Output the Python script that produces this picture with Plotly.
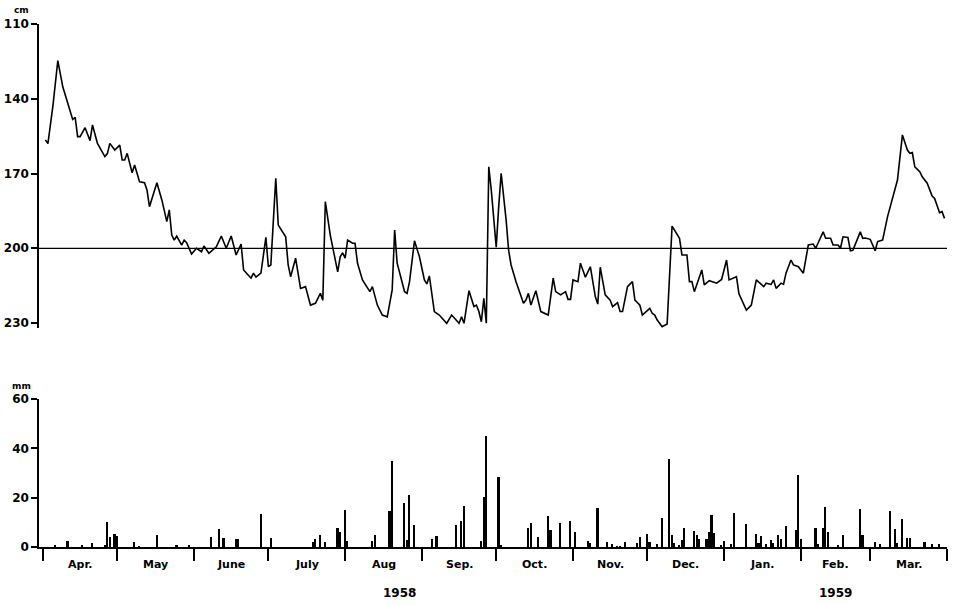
import plotly.graph_objects as go

# Water level (cm below surface), day index from 1 Apr 1958
level_day = [1, 2, 4, 6, 8, 10, 12, 13, 14, 15, 17, 19, 20, 22, 25, 26, 27, 29, 31, 32, 33, 34, 36, 37, 39, 41, 42, 43, 46, 48,
             50, 51, 52, 53, 54, 56, 57, 58, 60, 62, 64, 65, 67, 70, 72, 74, 76, 78, 80, 81, 84, 85, 86, 88, 90, 91, 92, 94, 95, 98,
             99, 100, 102, 104, 106, 108, 110, 112, 113, 114, 116, 119, 120, 121, 122, 123, 125, 126, 127, 129, 132, 133, 135, 137, 139, 141, 142, 143, 146, 147,
             148, 150, 152, 154, 155, 156, 158, 160, 163, 165, 168, 169, 170, 172, 174, 175, 176, 177, 178, 179, 180, 181, 183, 184, 185, 187, 188, 189, 191, 194,
             195, 196, 197, 199, 201, 204, 206, 207, 209, 211, 212, 213, 214, 216, 217, 219, 221, 223, 224, 225, 227, 229, 230, 232, 233, 234, 236, 238, 239, 241,
             242, 245, 246, 247, 248, 250, 252, 254, 256, 257, 258, 260, 261, 262, 263, 265, 266, 267, 269, 272, 274, 276, 277, 280, 281, 284, 286, 288, 291, 292,
             294, 295, 296, 298, 299, 300, 302, 303, 305, 307, 309, 311, 312, 315, 316, 318, 319, 321, 322, 323, 325, 326, 327, 330, 331, 332, 334, 336, 337, 339,
             341, 345, 347, 349, 350, 351, 352, 354, 355, 357, 359, 360, 362, 363, 364]
level_cm = [156.5, 158.0, 143.0, 124.7, 135.2, 141.8, 148.3, 147.5, 155.2, 155.2, 151.6, 156.8, 150.5, 157.9, 163.2, 162.0, 157.9, 160.6, 158.6, 164.6,
            164.6, 161.9, 169.7, 166.6, 173.3, 173.7, 176.6, 183.3, 173.7, 180.6, 189.3, 184.6, 194.7, 196.7, 195.1, 198.7, 196.7, 197.8, 202.3, 200.0,
            201.4, 199.1, 202.0, 199.4, 195.1, 200.0, 195.1, 202.7, 198.3, 208.7, 212.0, 210.0, 211.6, 210.0, 195.6, 207.4, 206.7, 171.9, 190.7, 195.4,
            206.7, 211.4, 204.0, 216.1, 215.4, 222.8, 222.1, 218.1, 220.8, 181.3, 194.7, 209.5, 203.4, 201.8, 204.0, 196.7, 198.0, 198.0, 206.0, 212.7,
            217.4, 215.4, 222.8, 226.8, 227.5, 216.7, 192.7, 206.0, 217.4, 218.1, 213.4, 197.0, 203.4, 212.7, 214.3, 211.1, 225.4, 226.8, 230.1, 226.8,
            230.1, 227.5, 230.1, 217.0, 223.4, 222.8, 225.4, 229.5, 220.1, 230.1, 167.3, 176.6, 199.6, 183.3, 169.9, 188.7, 200.7, 206.7, 213.4, 222.1,
            220.8, 218.1, 222.8, 217.0, 225.4, 226.8, 212.0, 217.4, 218.7, 217.4, 220.5, 220.5, 212.7, 213.4, 206.0, 211.6, 207.4, 219.4, 222.4, 207.6,
            218.7, 220.8, 223.4, 221.8, 225.4, 225.4, 215.4, 213.4, 220.8, 222.8, 226.8, 224.1, 226.1, 226.8, 228.8, 231.5, 230.4, 191.1, 194.7, 196.0,
            202.7, 202.7, 213.4, 213.4, 217.4, 211.4, 208.7, 214.7, 213.0, 214.0, 212.5, 204.7, 212.7, 211.4, 218.3, 224.8, 222.8, 212.7, 215.4, 214.0,
            214.5, 212.7, 216.1, 214.0, 214.5, 210.0, 204.7, 206.7, 207.4, 210.0, 198.7, 198.3, 200.0, 193.4, 196.0, 196.0, 198.7, 198.7, 200.0, 195.4,
            195.7, 201.0, 200.8, 193.4, 196.0, 195.9, 196.4, 201.0, 197.3, 196.7, 187.3, 172.6, 154.5, 160.6, 161.9, 161.6, 167.3, 169.3, 171.3, 173.9,
            179.0, 180.0, 185.7, 185.3, 188.0]

# Daily rainfall (mm)
rain_day = [5, 10, 16, 20, 25, 26, 27, 29, 30, 37, 39, 46, 54, 59, 68, 71, 73, 78, 79, 88, 92, 109, 110, 112, 114, 119, 120, 122, 123, 133,
            134, 140, 141, 146, 147, 148, 150, 157, 159, 167, 169, 170, 177, 178, 179, 184, 185, 196, 197, 200, 204, 205, 209, 213, 215, 220, 221, 224, 228, 230,
            232, 233, 235, 240, 241, 244, 245, 248, 250, 253, 254, 255, 257, 258, 259, 263, 264, 265, 268, 269, 270, 271, 274, 275, 278, 279, 284, 288, 289, 290,
            292, 294, 295, 297, 298, 300, 304, 305, 306, 312, 313, 315, 316, 317, 321, 323, 330, 331, 336, 338, 342, 344, 345, 347, 349, 350, 356, 359, 362]
rain_mm = [1.0, 2.3, 0.8, 1.5, 1.0, 10.0, 4.1, 5.1, 4.4, 2.0, 0.5, 4.8, 0.8, 1.0, 4.1, 7.1, 3.7, 3.3, 3.3, 13.2, 3.5, 1.9, 3.2, 4.7, 2.0, 7.7, 6.1, 15.1, 2.6, 2.3,
           5.0, 14.7, 34.7, 17.8, 3.0, 21.2, 9.0, 3.2, 4.6, 8.8, 10.7, 16.7, 2.3, 20.2, 45.0, 28.5, 0.8, 7.6, 9.9, 3.9, 12.7, 6.7, 9.9, 10.5, 6.2, 2.4, 1.6, 15.7, 2.2, 1.1,
           0.5, 0.5, 1.9, 1.6, 4.0, 5.1, 2.2, 1.1, 11.6, 35.5, 4.7, 1.6, 0.8, 2.8, 7.8, 6.5, 4.9, 3.1, 3.1, 6.1, 12.8, 5.5, 0.8, 2.4, 1.1, 13.8, 9.4, 5.1, 1.6, 4.3,
           1.3, 2.7, 1.8, 5.0, 3.4, 8.4, 6.7, 29.0, 3.4, 7.8, 1.3, 7.8, 16.2, 6.1, 0.9, 4.7, 15.4, 4.7, 2.0, 1.1, 14.8, 7.4, 1.6, 11.5, 3.6, 3.6, 2.0, 1.3, 1.3]

month_start_day = [0, 30, 61, 91, 122, 153, 183, 214, 244, 275, 306, 334, 365]
month_labels = ["Apr.", "May", "June", "July", "Aug", "Sep.", "Oct.", "Nov.", "Dec.", "Jan.", "Feb.", "Mar."]
year_labels = ["1958", "1959"]
year_label_day = [144, 320]

level_ticks = [110, 140, 170, 200, 230]
rain_ticks = [0, 20, 40, 60]
reference_level = 200

FONT = "DejaVu Sans"
XR = [-1.6, 365]

fig = go.Figure()
fig.add_trace(go.Scatter(x=level_day, y=level_cm, mode="lines", xaxis="x", yaxis="y",
                         line=dict(color="black", width=1.6), showlegend=False, hoverinfo="skip"))
fig.add_trace(go.Bar(x=rain_day, y=rain_mm, xaxis="x2", yaxis="y2", width=0.65,
                     marker=dict(color="black", line=dict(width=0)), showlegend=False, hoverinfo="skip"))

fig.add_shape(type="line", xref="x", yref="y", x0=XR[0], x1=XR[1] + 1,
              y0=reference_level, y1=reference_level, line=dict(color="black", width=1.3))

annotations = []
mids = [(month_start_day[i] + month_start_day[i + 1]) / 2 for i in range(len(month_labels))]
for m, lab in zip(mids, month_labels):
    annotations.append(dict(x=m, y=-0.017, xref="x2", yref="paper", text=lab, showarrow=False,
                            yanchor="top", xanchor="center",
                            font=dict(family=FONT, size=11, color="black", weight="bold")))
for d, lab in zip(year_label_day, year_labels):
    annotations.append(dict(x=d, y=-0.07, xref="x2", yref="paper", text=lab, showarrow=False,
                            yanchor="top", xanchor="center",
                            font=dict(family=FONT, size=12, color="black", weight="bold")))
annotations.append(dict(x=-0.019, y=1.027, xref="paper", yref="paper", text="cm", showarrow=False,
                        xanchor="center", yanchor="middle",
                        font=dict(family=FONT, size=9, color="black", weight="bold")))
annotations.append(dict(x=-0.019, y=0.308, xref="paper", yref="paper", text="mm", showarrow=False,
                        xanchor="center", yanchor="middle",
                        font=dict(family=FONT, size=9, color="black", weight="bold")))

axis_font = dict(family=FONT, size=12, color="black", weight="bold")

fig.update_layout(
    width=954, height=605,
    margin=dict(l=39, r=7, t=24, b=58, autoexpand=False),
    paper_bgcolor="white", plot_bgcolor="white",
    bargap=0, hovermode=False,
    xaxis=dict(domain=[0, 1], anchor="y", range=XR, visible=False, showgrid=False, zeroline=False,
               automargin=False),
    yaxis=dict(domain=[0.4187, 1], anchor="x", range=[232, 110], tickvals=level_ticks,
               showline=True, linecolor="black", linewidth=1.5, ticks="outside", ticklen=6,
               tickwidth=1.5, tickcolor="black", showgrid=False, zeroline=False, tickfont=axis_font,
               automargin=False),
    xaxis2=dict(domain=[0, 1], anchor="y2", range=XR, matches="x", tickvals=month_start_day,
                ticktext=[""] * len(month_start_day), showline=True, linecolor="black", linewidth=1.5,
                ticks="outside", ticklen=12, tickwidth=1.5, tickcolor="black",
                showgrid=False, zeroline=False, automargin=False),
    yaxis2=dict(domain=[0, 0.283], anchor="x2", range=[0, 60], tickvals=rain_ticks,
                showline=True, linecolor="black", linewidth=1.5, ticks="outside", ticklen=6,
                tickwidth=1.5, tickcolor="black", showgrid=False, zeroline=False, tickfont=axis_font,
                automargin=False),
    annotations=annotations,
)

fig.write_html("out.html", config={"displayModeBar": False},
               post_script="document.body.style.margin='0';document.body.style.overflow='hidden';")
